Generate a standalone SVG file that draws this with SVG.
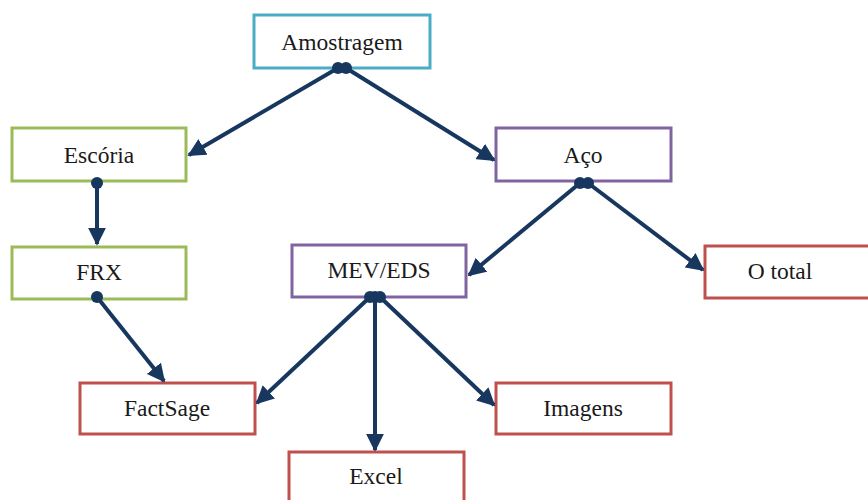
<svg xmlns="http://www.w3.org/2000/svg" width="868" height="500" viewBox="0 0 868 500">
<style>
.box{fill:#fff;stroke-width:3}
.c{stroke:#4bacc6}.g{stroke:#9bbb59}.p{stroke:#8064a2}.r{stroke:#c0504d}
.t{font-family:'Liberation Serif','DejaVu Serif',serif;font-size:23.5px;fill:#1a1a1a;text-anchor:middle;dominant-baseline:central}
.e{stroke:#17375e;stroke-width:4;fill:none;marker-end:url(#ah)}
.d{fill:#17375e}
</style>
<defs>
<marker id="ah" viewBox="0 0 10 10" refX="9" refY="5" markerWidth="4.5" markerHeight="4.5" markerUnits="strokeWidth" orient="auto">
<path d="M0,0 L10,5 L0,10 z" fill="#17375e"/>
</marker>
</defs>
<rect width="868" height="500" fill="#fff"/>
<g id="amostragem"><rect class="box c" x="254" y="15" width="176" height="53"/><text class="t" x="342" y="42">Amostragem</text></g>
<g id="escoria"><rect class="box g" x="12" y="128" width="174" height="53"/><text class="t" x="99" y="155">Escória</text></g>
<g id="aco"><rect class="box p" x="496" y="128" width="175" height="53"/><text class="t" x="583" y="155">Aço</text></g>
<g id="frx"><rect class="box g" x="12" y="247" width="174" height="52"/><text class="t" x="99" y="272">FRX</text></g>
<g id="mev"><rect class="box p" x="292" y="245" width="174" height="52"/><text class="t" x="379" y="270">MEV/EDS</text></g>
<g id="ototal"><rect class="box r" x="705" y="246" width="170" height="52"/><text class="t" x="780" y="271">O total</text></g>
<g id="factsage"><rect class="box r" x="80" y="383" width="175" height="51"/><text class="t" x="167" y="408">FactSage</text></g>
<g id="imagens"><rect class="box r" x="496" y="383" width="175" height="51"/><text class="t" x="583" y="408">Imagens</text></g>
<g id="excel"><rect class="box r" x="289" y="452" width="175" height="60"/><text class="t" x="376" y="476">Excel</text></g>
<g id="connectors">
<path class="e" d="M338,68 L189,155"/>
<path class="e" d="M346,68 L494,160"/>
<path class="e" d="M97,183 L97,244"/>
<path class="e" d="M97,297 L164,381"/>
<path class="e" d="M580,183 L469,275"/>
<path class="e" d="M588,183 L703,270"/>
<path class="e" d="M370,297 L257,403"/>
<path class="e" d="M375,297 L375,450"/>
<path class="e" d="M380,297 L494,405"/>
<circle class="d" cx="338" cy="68" r="6"/><circle class="d" cx="346" cy="68" r="6"/>
<circle class="d" cx="97" cy="183" r="6"/>
<circle class="d" cx="97" cy="297" r="6"/>
<circle class="d" cx="580" cy="183" r="6"/><circle class="d" cx="588" cy="183" r="6"/>
<circle class="d" cx="370" cy="297" r="6"/><circle class="d" cx="375" cy="297" r="6"/><circle class="d" cx="380" cy="297" r="6"/>
</g>
</svg>
